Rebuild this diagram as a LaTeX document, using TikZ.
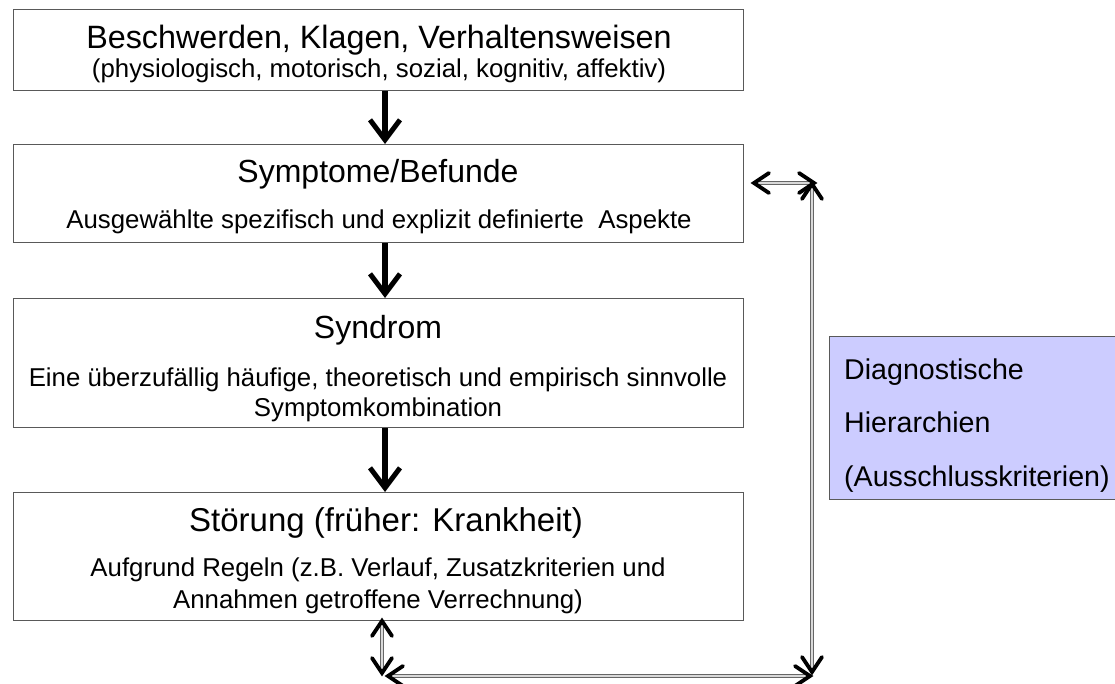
\documentclass[tikz,border=0pt]{standalone}
\usepackage{fontspec}
\setmainfont{Liberation Sans}
\usetikzlibrary{arrows.meta}
\definecolor{boxline}{gray}{0.35}
\definecolor{lav}{RGB}{204,204,255}
\begin{document}
\begin{tikzpicture}[x=1pt,y=-1pt,
  box/.style={draw=boxline,line width=1.4pt,fill=white,inner sep=0pt,anchor=north west},
  txt/.style={inner sep=0pt,anchor=base,text=black},
  big/.style={font=\fontsize{32.3}{36}\selectfont},
  mid/.style={font=\fontsize{32}{36}\selectfont},
  small/.style={font=\fontsize{25.8}{30}\selectfont},
  dtxt/.style={inner sep=0pt,anchor=base west,font=\fontsize{28.6}{36}\selectfont},
  flow/.style={line width=6pt,black,-{Straight Barb[length=20pt,width=30pt,line width=5pt]}},
  dbl/.style={draw=gray!80!black,line width=1pt,double=gray!30,double distance=2pt},
  chev/.style={black,line width=3.8pt,line cap=round,line join=miter},
]
\useasboundingbox (0,0) rectangle (1115,684);
% boxes
\node[box,minimum width=730pt,minimum height=81pt] (b1) at (13,9) {};
\node[box,minimum width=730pt,minimum height=98pt] (b2) at (13,144) {};
\node[box,minimum width=730pt,minimum height=129pt] (b3) at (13,298) {};
\node[box,minimum width=730pt,minimum height=128pt] (b4) at (13,492) {};
\node[box,fill=lav,minimum width=300pt,minimum height=163pt] (d) at (829,336) {};
% texts
\node[txt,big] (t1) at (379,49) {Beschwerden, Klagen, Verhaltensweisen};
\node[txt,small] (t1b) at (379,78) {(physiologisch, motorisch, sozial, kognitiv, affektiv)};
\node[txt,mid] (t2) at (378,183) {Symptome/Befunde};
\node[txt,small] (t2b) at (379,229) {Ausgewählte spezifisch und explizit definierte\ \ Aspekte};
\node[txt,mid] (t3) at (378,338) {Syndrom};
\node[txt,small] (t3b) at (378,386) {Eine überzufällig häufige, theoretisch und empirisch sinnvolle};
\node[txt,small] (t3c) at (378,416) {Symptomkombination};
\node[txt,mid,font=\fontsize{33}{36}\selectfont] (t4) at (386,531) {Störung (früher: Krankheit)};
\node[txt,small] (t4b) at (378,576) {Aufgrund Regeln (z.B. Verlauf, Zusatzkriterien und};
\node[txt,small] (t4c) at (378,608) {Annahmen getroffene Verrechnung)};
\node[dtxt] (d1) at (844,379) {Diagnostische};
\node[dtxt] (d2) at (844,432) {Hierarchien};
\node[dtxt] (d3) at (844,486) {(Ausschlusskriterien)};
% flow arrows
\draw[flow] (b1.south -| 385,0) -- (b2.north -| 385,0);
\draw[flow] (b2.south -| 385,0) -- (b3.north -| 385,0);
\draw[flow] (b3.south -| 385,0) -- (b4.north -| 385,0);
% double arrows
\coordinate (r1) at (754,183);
\coordinate (r2) at (814,183);
\coordinate (v1) at (812,184);
\coordinate (v2) at (812,672);
\coordinate (h1) at (388,676);
\coordinate (h2) at (810,676);
\coordinate (l1) at (382,621);
\coordinate (l2) at (382,673);
\draw[dbl] (r1) -- (r2);
\draw[dbl] (v2) -- (v1);
\draw[dbl] (h1) -- (h2);
\draw[dbl] (l1) -- (l2);
% arrow heads
\draw[chev] (r1) ++(15,-10) -- (r1) -- ++(15,10);
\draw[chev] (r2) ++(-15,-10) -- (r2) -- ++(-15,10);
\draw[chev] (v1) ++(-10,15) -- (v1) -- ++(10,15);
\draw[chev] (v2) ++(-10,-15) -- (v2) -- ++(10,-15);
\draw[chev] (h1) ++(15,-10) -- (h1) -- ++(15,10);
\draw[chev] (h2) ++(-15,-10) -- (h2) -- ++(-15,10);
\draw[chev] (l1) ++(-10,15) -- (l1) -- ++(10,15);
\draw[chev] (l2) ++(-10,-15) -- (l2) -- ++(10,-15);
\end{tikzpicture}
\end{document}
